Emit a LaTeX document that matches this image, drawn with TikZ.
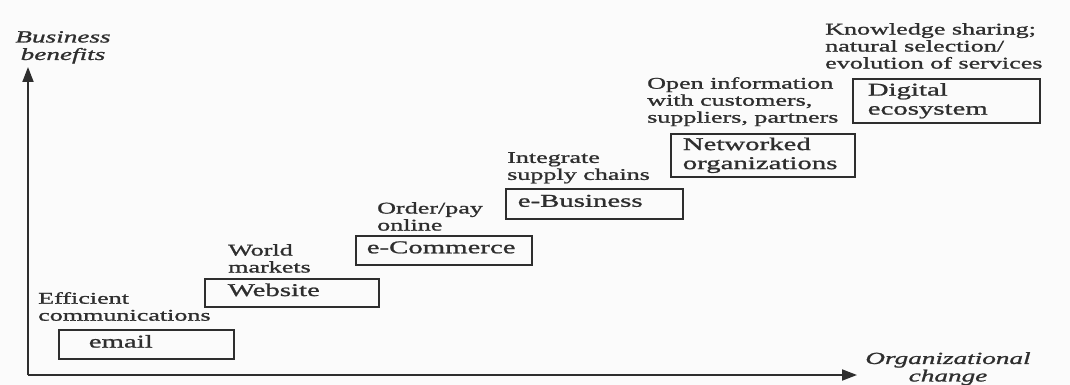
\documentclass[tikz,border=0pt]{standalone}
\usepackage{fontspec}
\setmainfont[FakeStretch=1.6,FakeBold=1.2]{Liberation Serif}
\usetikzlibrary{arrows.meta}
\definecolor{ink}{HTML}{2E2E2E}
\definecolor{paper}{HTML}{FBFBFB}
\begin{document}
\begin{tikzpicture}[x=1pt,y=-1pt,
  note/.style={anchor=north west, align=left, inner sep=0pt, text=ink,
    font=\fontsize{16.3}{17}\selectfont},
  axislabel/.style={anchor=north, align=center, inner sep=0pt, text=ink,
    font=\fontsize{17}{17.5}\selectfont\itshape},
  stage/.style 2 args={draw=ink, line width=1.6pt, anchor=north west,
    align=left, inner xsep=3pt, inner ysep=0pt, text=ink,
    text width=#1, minimum height=#2,
    font=\fontsize{18}{19}\selectfont},
  oneline/.style={text depth=6pt},
  axis/.style={draw=ink, line width=1.8pt,
    -{Triangle[length=15pt,width=11pt]}}]

% canvas
\fill[paper] (0,0) rectangle (1070,385);
\useasboundingbox (0,0) rectangle (1070,385);

% axes
\coordinate (origin) at (28,375);
\coordinate (ytip) at (28,67);
\coordinate (xtip) at (857,375);
\draw[axis] (origin) -- (ytip);
\draw[axis] (origin) -- (xtip);
\node[axislabel] (ylab) at (63,31) {Business\\benefits};
\node[axislabel] (xlab) at (948,352) {Organizational\\change};

% stages of the staircase
\node[stage={169pt}{29pt}, oneline] (email) at (58,329) {\hspace*{27pt}email};
\node[stage={168pt}{28pt}, oneline] (website) at (204,278) {\hspace*{20pt}Website};
\node[stage={170pt}{29pt}, oneline] (ecom) at (355,235) {\hspace*{8pt}e-Commerce};
\node[stage={171pt}{30pt}, oneline] (ebus) at (505,188) {\hspace*{9pt}e-Business};
\node[stage={178pt}{43pt}] (netorg) at (670,133)
  {\hspace*{9pt}Networked\\\hspace*{9pt}organizations};
\node[stage={181pt}{44pt}] (digeco) at (852,78)
  {\hspace*{12pt}Digital\\\hspace*{12pt}ecosystem};

% benefit notes above each stage
\node[note] (effcom) at (38,292) {Efficient\\communications};
\node[note] (worldmk) at (228,244) {World\\markets};
\node[note] (orderpay) at (377,202) {Order/pay\\online};
\node[note] (integ) at (507,152) {Integrate\\supply chains};
\node[note] (openinfo) at (647,77) {Open information\\with customers,\\suppliers, partners};
\node[note] (knowshare) at (825,23) {Knowledge sharing;\\natural selection/\\evolution of services};
\end{tikzpicture}
\end{document}
